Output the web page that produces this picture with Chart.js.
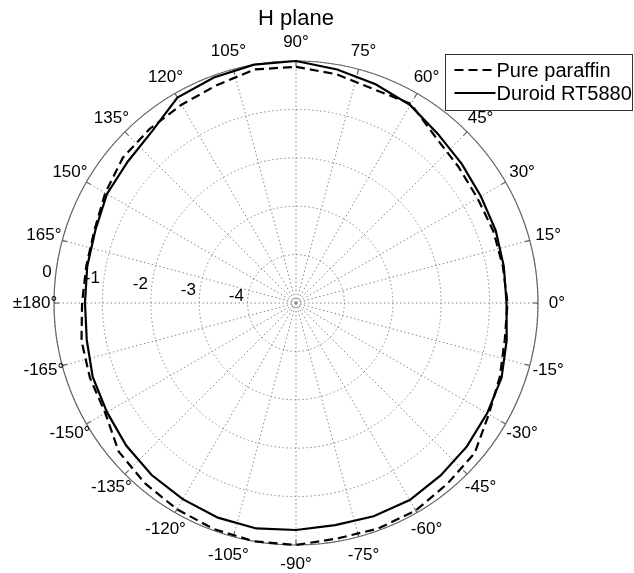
<!DOCTYPE html>
<html>
<head>
<meta charset="utf-8">
<script src="https://cdn.jsdelivr.net/npm/chart.js@4.4.1/dist/chart.umd.min.js"></script>
<style>
  body { margin: 0; background: #fff; }
</style>
</head>
<body>
<canvas id="hPlane" width="634" height="573"></canvas>
<script>
// measured angles (degrees) and gains (dB)
const angles = [0, 10, 20, 30, 40, 50, 60, 70, 80, 90, 100, 110, 120, 130, 140, 150, 160, 170, 180,
    -170, -160, -150, -140, -130, -120, -110, -100, -90, -80, -70, -60, -50, -40, -30, -20, -10];
const paraffin = [-0.63, -0.66, -0.66, -0.67, -0.62, -0.52, -0.25, -0.30, -0.20, -0.12, -0.10, -0.21, -0.27, -0.30, -0.33, -0.45, -0.57, -0.60, -0.58,
    -0.50, -0.47, -0.45, -0.22, -0.14, -0.08, -0.03, 0.00, 0.00, -0.06, -0.04, -0.05, -0.13, -0.18, -0.40, -0.52, -0.62];
const duroid = [-0.65, -0.64, -0.61, -0.59, -0.53, -0.44, -0.28, -0.19, -0.10, 0.00, 0.00, -0.04, -0.10, -0.37, -0.46, -0.49, -0.59, -0.62, -0.64,
    -0.61, -0.53, -0.49, -0.42, -0.36, -0.32, -0.28, -0.27, -0.31, -0.34, -0.31, -0.30, -0.35, -0.39, -0.44, -0.48, -0.58];

// angle labels every 15 degrees, ring labels in dB
const degreeTicks = [90, 75, 60, 45, 30, 15, 0, -15, -30, -45, -60, -75, -90, -105, -120, -135, -150, -165, 180, 165, 150, 135, 120, 105];
const ringTicks = [0, -1, -2, -3, -4];

const FONT = "'Liberation Sans', Arial, sans-serif";
const STEP = 5; // radar slots every 5 deg so both 10 deg data and 15 deg spokes fit
const slots = 360 / STEP;

// slot i sits at angle 90 - 5*i (clockwise from top)
function slotOf(a) {
    return (((90 - a) % 360) + 360) % 360 / STEP;
}

const labels = new Array(slots).fill('');
degreeTicks.forEach(d => {
    labels[slotOf(d)] = d === 180 ? '\u00b1180\u00b0' : d + '\u00b0';
});

function toSlots(values) {
    const out = new Array(slots).fill(null);
    angles.forEach((a, k) => { out[slotOf(a)] = values[k]; });
    return out;
}

const polarExtras = {
    id: 'polarExtras',
    beforeDatasetsDraw(chart) {
        const s = chart.scales.r;
        const ctx = chart.ctx;
        const R = s.getDistanceFromCenterForValue(0);
        ctx.save();
        ctx.strokeStyle = '#666';
        ctx.lineWidth = 1.2;
        ctx.beginPath();
        ctx.arc(s.xCenter, s.yCenter, R, 0, Math.PI * 2);
        ctx.stroke();
        // small ticks on the rim at each labelled angle
        labels.forEach((lab, i) => {
            if (!lab) return;
            const p1 = s.getPointPosition(i, R);
            const p2 = s.getPointPosition(i, R - 5);
            ctx.beginPath();
            ctx.moveTo(p1.x, p1.y);
            ctx.lineTo(p2.x, p2.y);
            ctx.stroke();
        });
        ctx.restore();
    },
    afterDraw(chart) {
        const s = chart.scales.r;
        const ctx = chart.ctx;
        const R = s.getDistanceFromCenterForValue(0);
        ctx.save();
        ctx.fillStyle = '#000';
        ctx.font = '17px ' + FONT;
        ctx.textAlign = 'center';
        ctx.textBaseline = 'middle';
        labels.forEach((lab, i) => {
            if (!lab) return;
            const p = s.getPointPosition(i, R + 19);
            ctx.fillText(lab, p.x, p.y);
        });

        // dB labels along the 173 deg direction
        const tilt = 7 * Math.PI / 180;
        ctx.textAlign = 'right';
        ringTicks.forEach(v => {
            const r = s.getDistanceFromCenterForValue(v);
            ctx.fillText(String(v), s.xCenter - r * Math.cos(tilt) - 4, s.yCenter - r * Math.sin(tilt) - 1);
        });

        // legend box
        const bx = 445.5, by = 54.5, bw = 187, bh = 56;
        ctx.fillStyle = '#fff';
        ctx.fillRect(bx, by, bw, bh);
        ctx.strokeStyle = '#333';
        ctx.lineWidth = 1;
        ctx.strokeRect(bx, by, bw, bh);
        ctx.font = '20px ' + FONT;
        ctx.textAlign = 'left';
        chart.data.datasets.forEach((ds, k) => {
            const y = by + 15.5 + k * 23;
            ctx.strokeStyle = ds.borderColor;
            ctx.lineWidth = ds.borderWidth;
            ctx.setLineDash(ds.borderDash || []);
            ctx.beginPath();
            ctx.moveTo(bx + 9, y);
            ctx.lineTo(bx + 50, y);
            ctx.stroke();
            ctx.setLineDash([]);
            ctx.fillStyle = '#000';
            ctx.fillText(ds.label, bx + 51, y + 1);
        });
        ctx.restore();
    }
};

const ctx = document.getElementById('hPlane').getContext('2d');
const hChart = new Chart(ctx, {
    type: 'radar',
    data: {
        labels: labels,
        datasets: [{
            label: 'Pure paraffin',
            data: toSlots(paraffin),
            borderColor: '#000',
            borderWidth: 2.2,
            borderDash: [9, 5],
            pointRadius: 0,
            fill: false,
            spanGaps: true,
            tension: 0
        }, {
            label: 'Duroid RT5880',
            data: toSlots(duroid),
            borderColor: '#000',
            borderWidth: 2.2,
            pointRadius: 0,
            fill: false,
            spanGaps: true,
            tension: 0
        }]
    },
    options: {
        responsive: false,
        animation: false,
        layout: {
            padding: { left: 54, right: 96, top: 0, bottom: 28 }
        },
        plugins: {
            legend: { display: false },
            tooltip: { enabled: false },
            title: {
                display: true,
                text: 'H plane',
                fullSize: false,
                color: '#000',
                font: { family: FONT, size: 22, weight: 'normal' },
                padding: { top: 6, bottom: 28.6 }
            }
        },
        scales: {
            r: {
                min: -5,
                max: 0,
                ticks: { display: false, stepSize: 1 },
                pointLabels: { display: false },
                grid: {
                    circular: true,
                    color: '#888',
                    lineWidth: 1
                },
                border: { dash: [1.5, 2.5] },
                angleLines: {
                    color: '#888',
                    lineWidth: (c) => (c.index % 3 === 0 ? 1 : 0),
                    borderDash: [1.5, 2.5]
                }
            }
        }
    },
    plugins: [polarExtras]
});
</script>
</body>
</html>
